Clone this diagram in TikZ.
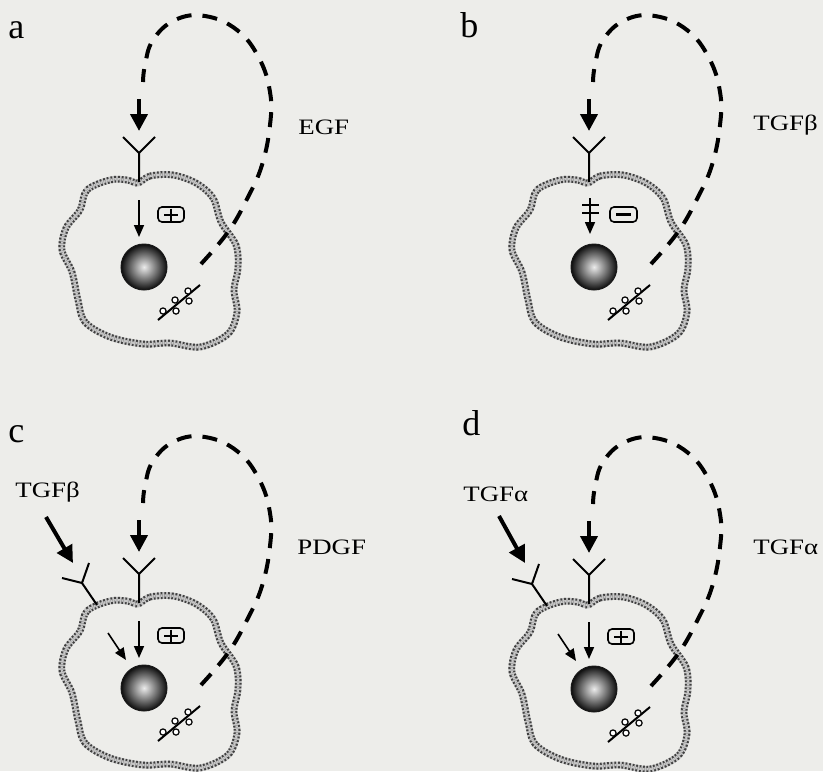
\documentclass[tikz,border=0pt]{standalone}
\usepackage{graphicx}
\usepackage{fontspec}
\setmainfont{Liberation Serif}
\usetikzlibrary{arrows.meta}

\definecolor{paper}{RGB}{237,237,234}
\newcommand\wide[1]{\scalebox{1.22}[1]{#1}}

\tikzset{
  membrane/.style={draw=gray!45,line width=3.4pt,
    postaction={draw=black!75,line width=1.1pt,double=gray!45,double distance=1.2pt,
      dash pattern=on 0.9pt off 0.9pt}},
  loop/.style={line width=2pt,dash pattern=on 7.5pt off 5.5pt},
  signal/.style={line width=2pt,-{Triangle[length=8.5pt,width=8.5pt]}},
  relay/.style={line width=0.8pt,-{Triangle[length=6pt,width=5pt]}},
  receptor/.style={line width=1pt},
  factor/.style={font=\fontsize{11}{13}\selectfont,inner sep=0pt,anchor=west},
  tag/.style={font=\fontsize{18}{20}\selectfont,inner sep=0pt,anchor=base west},
  signbox/.style={draw,line width=0.8pt,rounded corners=2pt}
}

\begin{document}
\begin{tikzpicture}[x=0.5pt,y=-0.5pt]
\fill[paper](0,0)rectangle(823,771);
\useasboundingbox(0,0)rectangle(823,771);
\foreach \dx/\dy in {0/0,450/0,0/421,450/422}{
\begin{scope}[shift={(\dx,\dy)}]
\draw[membrane]plot[smooth cycle,tension=0.55]coordinates{
(138,183)(150,176)(173,175)(196,183)(213,198)(221,222)(236,245)
(238,268)(234,290)(237,312)(228,334)(200,347)(170,343)(143,344)
(110,337)(85,322)(78,300)(72,272)(62,250)(66,228)(80,210)(87,190)
(110,180)(127,180)};
\shade[inner color=gray!15,outer color=black!95,draw=black!90,line width=0.5pt]
(144,267)circle[radius=23];
\draw[line width=1pt](158,320)--(200,285);
\foreach \gx/\gy in {163/311,175/300,176/311,188/291,189/301}
\draw[line width=0.6pt,fill=white](\gx,\gy)circle[radius=3.1];
\draw[loop]plot[smooth,tension=0.7]coordinates{
(201,264)(228,232)(247,199)(262,165)(270,125)(270,92)(259,58)
(237,30)(205,16)(175,20)(153,40)(145,65)(143,82)};
\draw[signal](139,99)--(139,131);
\draw[receptor](123,137)--(139,153)--(155,137)(139,153)--(139,182);
\end{scope}
}
% a
\node[tag](la)at(8,38){a};
\node[factor](egf)at(298,127){\wide{EGF}};
\draw[relay](139,200)--(139,237);
\draw[signbox](158,207)rectangle(184,222);
\draw[line width=1pt](164,214.5)--(178,214.5)(171,208.5)--(171,220.5);
% b
\begin{scope}[shift={(450,0)}]
\node[tag](lb)at(10,37){b};
\node[factor](tgfb)at(303,125){\wide{TGFβ}};
\draw[relay](140,198)--(140,234);
\draw[line width=1pt](132,205)--(149,205)(132,213)--(149,213);
\draw[signbox](160,207)rectangle(187,222);
\draw[line width=1.2pt](166,214.5)--(181,214.5);
\end{scope}
% c
\begin{scope}[shift={(0,421)}]
\node[tag](lc)at(8,21){c};
\node[factor](tgfbc)at(15,71){\wide{TGFβ}};
\node[factor](pdgf)at(297,126){\wide{PDGF}};
\draw[signal](46,96)--(73,142);
\draw[receptor](62,157)--(82,162)--(89,142)(82,162)--(97,184);
\draw[relay](108,212)--(126,239);
\draw[relay](139,200)--(139,237);
\draw[signbox](158,207)rectangle(184,222);
\draw[line width=1pt](164,214.5)--(178,214.5)(171,208.5)--(171,220.5);
\end{scope}
% d
\begin{scope}[shift={(450,422)}]
\node[tag](ld)at(12,13){d};
\node[factor](tgfad)at(13,72){\wide{TGFα}};
\node[factor](tgfa)at(303,125){\wide{TGFα}};
\draw[signal](49,94)--(75,141);
\draw[receptor](62,157)--(82,162)--(89,142)(82,162)--(97,184);
\draw[relay](108,212)--(126,239);
\draw[relay](139,200)--(139,237);
\draw[signbox](158,207)rectangle(184,222);
\draw[line width=1pt](164,214.5)--(178,214.5)(171,208.5)--(171,220.5);
\end{scope}
\end{tikzpicture}
\end{document}
